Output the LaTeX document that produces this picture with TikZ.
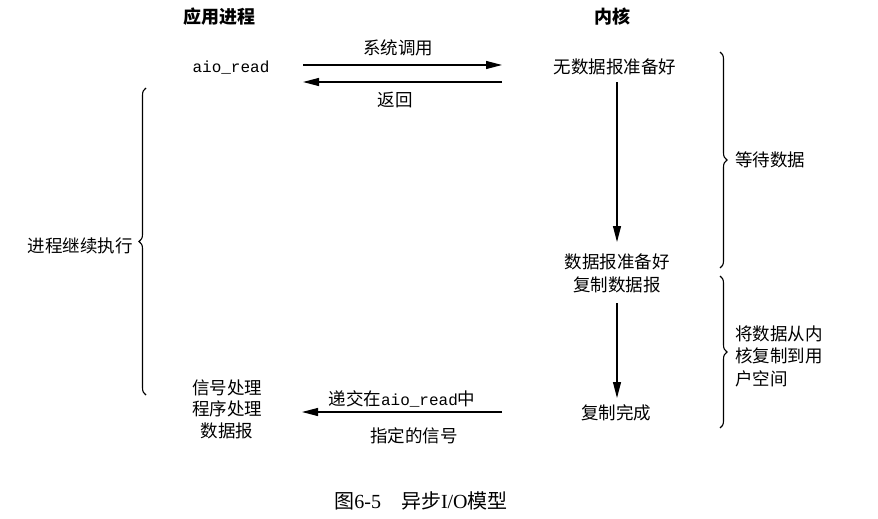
\documentclass[tikz,border=0pt]{standalone}
\usepackage{fontspec}
\setmainfont{Liberation Serif}
\newfontfamily\cjk{Noto Sans CJK SC}
\newfontfamily\mono{Liberation Mono}
\usetikzlibrary{arrows.meta,decorations.pathreplacing}
\begin{document}
\begin{tikzpicture}[x=1pt,y=-1pt,
  txt/.style={inner sep=0pt,font=\fontsize{17.5}{20}\selectfont\cjk},
  head/.style={inner sep=0pt,font=\fontsize{18}{20}\selectfont\cjk\bfseries},
  code/.style={inner sep=0pt,font=\fontsize{16}{18}\selectfont\mono},
  flow/.style={line width=1.1pt,-{Triangle[length=16pt,width=8pt]}},
  brc/.style={line width=1.1pt,decorate,decoration={brace,amplitude=7pt}},
  multi/.style={inner sep=0pt,align=center,font=\fontsize{17.5}{23}\selectfont\cjk}]
\useasboundingbox (0,0) rectangle (878,519);
% headings
\node[head] (hApp) at (219,17) {应用进程};
\node[head] (hKer) at (612,17) {内核};
% left column
\node[code] (aio) at (231,68) {aio\_read};
\node[multi,font=\fontsize{17.5}{21.5}\selectfont\cjk] (sig) at (227,409) {信号处理\\程序处理\\数据报};
% kernel column
\node[txt] (nodata) at (615,67) {无数据报准备好};
\node[multi] (ready) at (617,273) {数据报准备好\\复制数据报};
\node[txt] (done) at (616,413) {复制完成};
% horizontal arrows
\coordinate (a1) at (303,65);
\coordinate (b1) at (502,65);
\coordinate (a2) at (502,82);
\coordinate (b2) at (303,82);
\coordinate (a3) at (502,412);
\coordinate (b3) at (302,412);
\draw[flow] (a1) -- (b1);
\draw[flow] (a2) -- (b2);
\draw[flow] (a3) -- (b3);
\node[txt] (syscall) at (398,48) {系统调用};
\node[txt] (ret) at (395,100) {返回};
\node[inner sep=0pt] (deliver) at (402,399) {\fontsize{17.5}{20}\selectfont\cjk 递交在{\mono\fontsize{16}{18}\selectfont aio\_read}中};
\node[txt] (spec) at (414,436) {指定的信号};
% vertical arrows
\coordinate (v1) at (617,82);
\coordinate (v2) at (617,242);
\coordinate (v3) at (617,303);
\coordinate (v4) at (617,398);
\draw[flow] (v1) -- (v2);
\draw[flow] (v3) -- (v4);
% braces
\coordinate (lb1) at (146,395);
\coordinate (lb2) at (146,88);
\draw[brc] (lb1) -- (lb2);
\node[txt,anchor=east] (cont) at (133,246) {进程继续执行};
\coordinate (rb1) at (720,52);
\coordinate (rb2) at (720,268);
\draw[brc] (rb1) -- (rb2);
\node[txt,anchor=west] (wait) at (735,160) {等待数据};
\coordinate (rb3) at (720,276);
\coordinate (rb4) at (720,428);
\draw[brc] (rb3) -- (rb4);
\node[inner sep=0pt,anchor=west,align=left,font=\fontsize{17.5}{22.5}\selectfont\cjk] (copy) at (735,356) {将数据从内\\核复制到用\\户空间};
% caption
\node[inner sep=0pt,font=\fontsize{20}{22}\selectfont] (cap) at (421,501) {{\cjk 图}6-5\quad{\cjk 异步}I/O{\cjk 模型}};
\end{tikzpicture}
\end{document}
